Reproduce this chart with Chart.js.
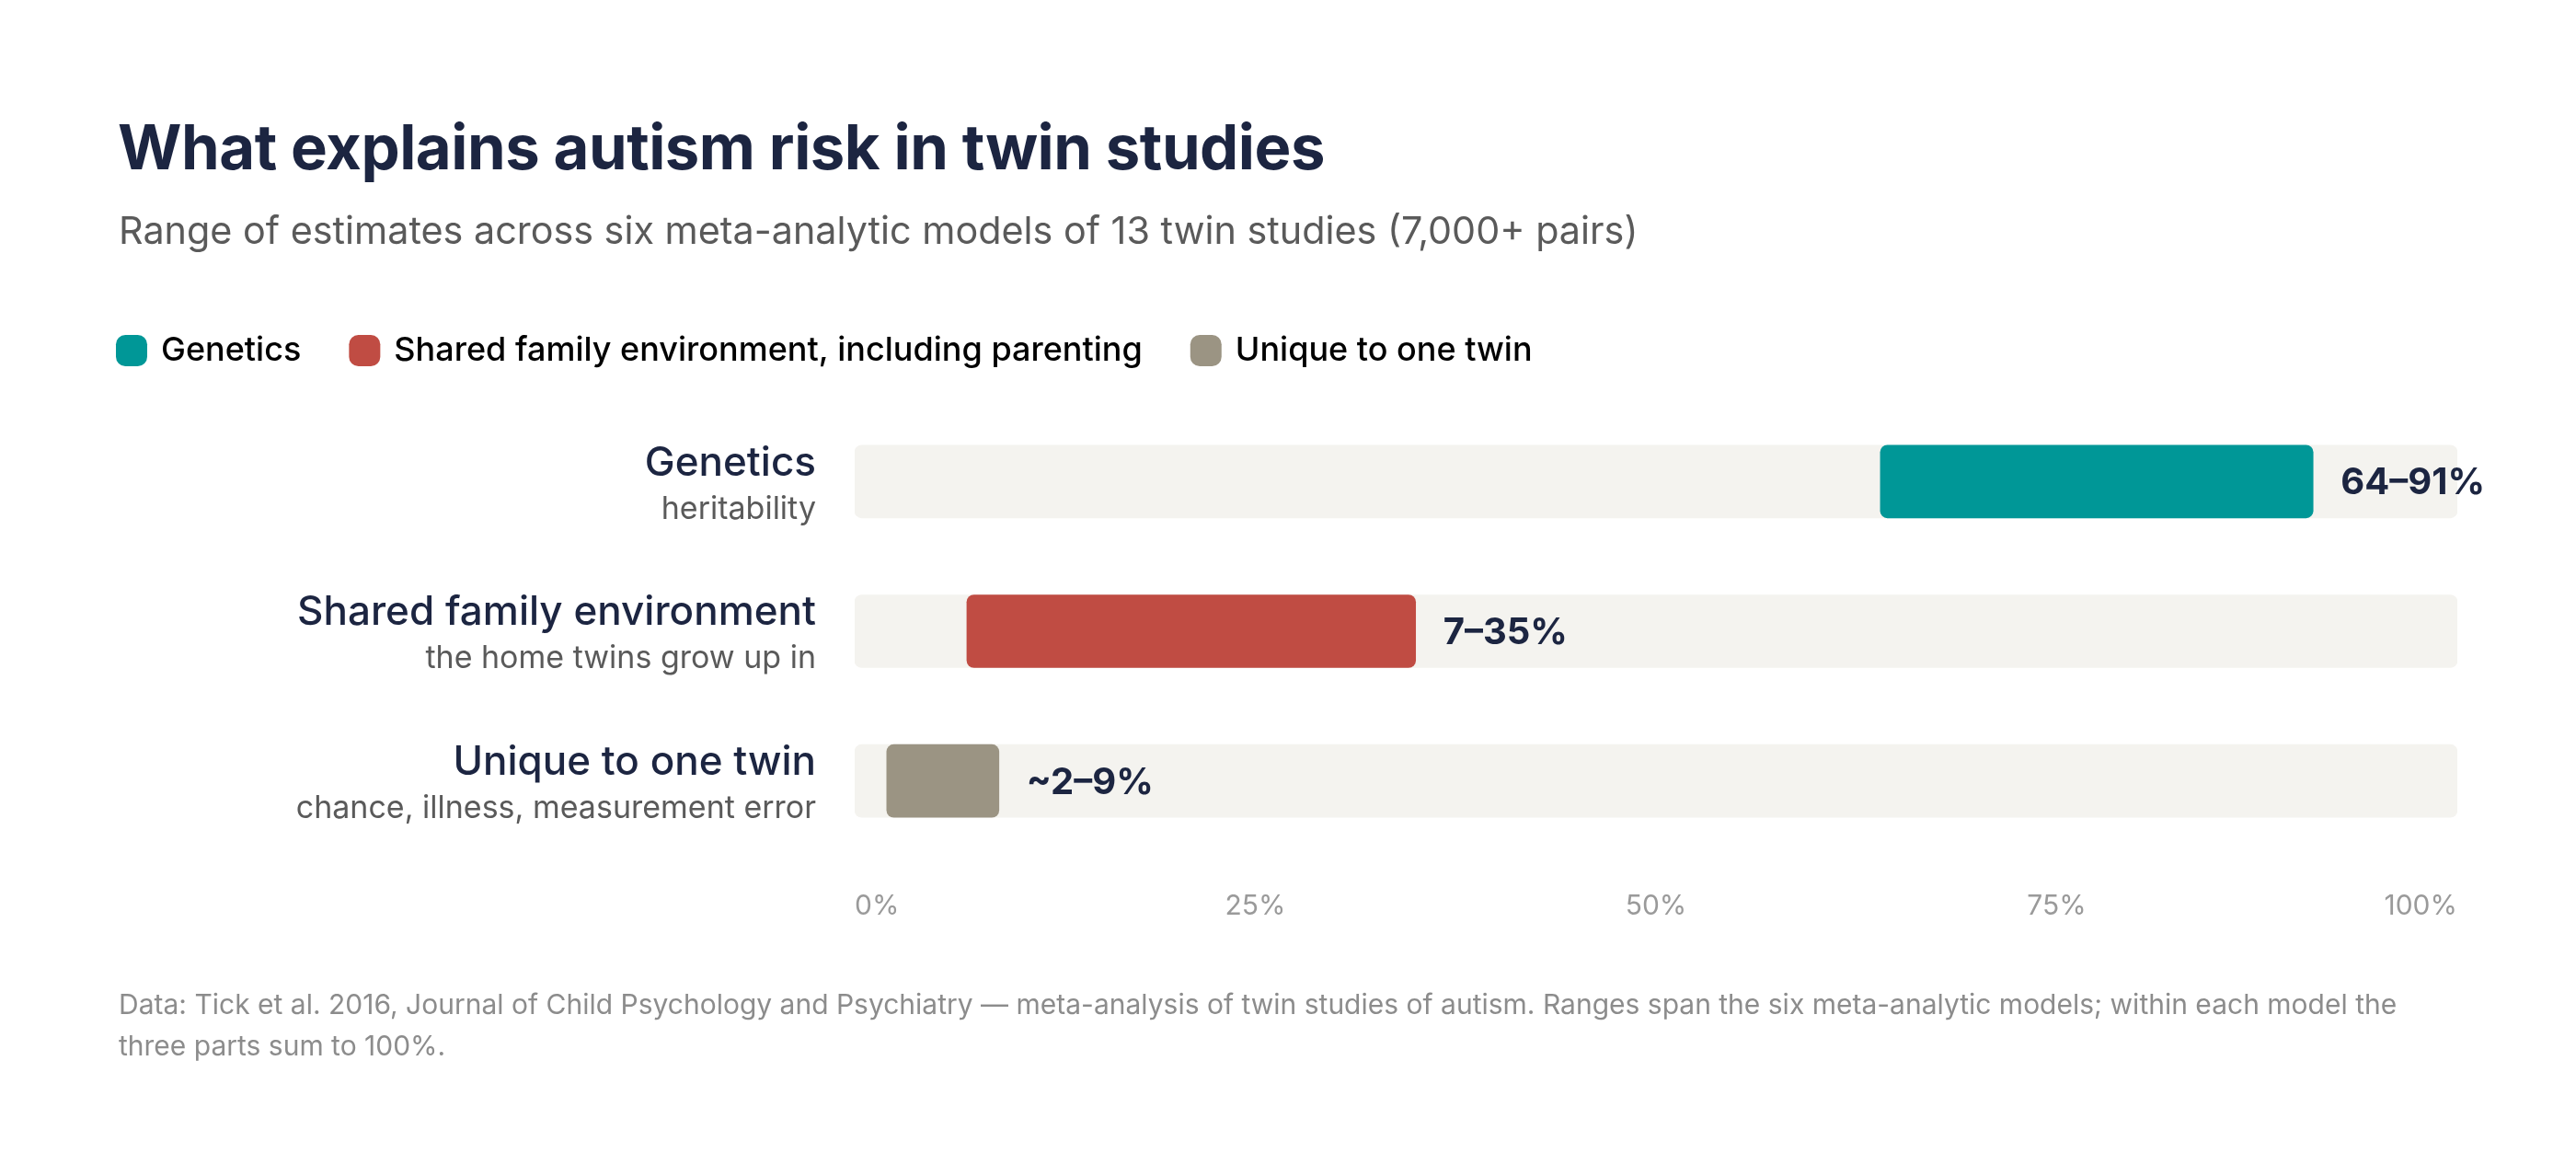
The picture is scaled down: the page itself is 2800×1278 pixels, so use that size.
<!DOCTYPE html>
<html>
<head>
<meta charset="utf-8">
<script src="https://cdn.jsdelivr.net/npm/chart.js@4.4.1/dist/chart.umd.min.js"></script>
<style>
html,body{margin:0;padding:0;background:#fff;}
body{width:2800px;height:1278px;position:relative;overflow:hidden;font-family:Inter,"Noto Sans",sans-serif;}
#title{position:absolute;left:128px;top:126px;font-size:67px;line-height:1;font-weight:700;color:#1c2541;letter-spacing:-0.5px;white-space:nowrap;}
#subtitle{position:absolute;left:129px;top:230px;font-size:41.3px;line-height:1;font-weight:400;color:#5a5a5a;white-space:nowrap;}
#footer{position:absolute;left:129px;top:1069px;width:2545px;font-size:30px;line-height:45px;color:#8c8c8c;}
#wrap{position:absolute;left:0;top:0;width:2800px;height:1278px;}
</style>
</head>
<body>
<div id="wrap"><canvas id="chart"></canvas></div>
<div id="title">What explains autism risk in twin studies</div>
<div id="subtitle">Range of estimates across six meta-analytic models of 13 twin studies (7,000+ pairs)</div>
<div id="footer">Data: Tick et al. 2016, Journal of Child Psychology and Psychiatry — meta-analysis of twin studies of autism. Ranges span the six meta-analytic models; within each model the three parts sum to 100%.</div>
<script>
// categories and values
const categories = ["Genetics","Shared family environment","Unique to one twin"];
const subLabels = ["heritability","the home twins grow up in","chance, illness, measurement error"];
const legendLabels = ["Genetics","Shared family environment, including parenting","Unique to one twin"];
const lowValues = [64,7,2];
const highValues = [91,35,9];
const rangeLabels = ["64–91%","7–35%","~2–9%"];
const xTicks = [0,25,50,75,100];
const colors = ["#009797","#c04c43","#9b9483"];

const NAVY = "#1c2541";

// y-axis labels with a bold name and a grey note under it
const catLabels = {
  id:"catLabels",
  afterDraw(chart){
    const c = chart.ctx;
    const y = chart.scales.y;
    const x0 = chart.chartArea.left - 42;
    c.save();
    c.textAlign = "right";
    c.textBaseline = "middle";
    categories.forEach((name,i)=>{
      const py = y.getPixelForValue(i);
      c.font = "500 44px Inter";
      c.fillStyle = NAVY;
      c.fillText(name, x0, py-20);
      c.font = "400 34px Inter";
      c.fillStyle = "#5a5a5a";
      c.fillText(subLabels[i], x0, py+30);
    });
    c.restore();
  }
};

// range text to the right of each bar
const rangeText = {
  id:"rangeText",
  afterDatasetsDraw(chart){
    const c = chart.ctx;
    const meta = chart.getDatasetMeta(0);
    c.save();
    c.font = "700 40px Inter";
    c.fillStyle = NAVY;
    c.textAlign = "left";
    c.textBaseline = "middle";
    meta.data.forEach((bar,i)=>{
      c.fillText(rangeLabels[i], bar.x + 30, bar.y + 2);
    });
    c.restore();
  }
};

// leave room between legend and plot
const legendGap = {
  id:"legendGap",
  beforeInit(chart){
    const fit = chart.legend.fit;
    chart.legend.fit = function(){
      fit.call(this);
      this.height += 33;
    };
  }
};

new Chart(document.getElementById("chart"),{
  type:"bar",
  data:{
    labels:categories,
    datasets:[
      {
        label:"range",
        data:categories.map((_,i)=>[lowValues[i],highValues[i]]),
        backgroundColor:colors,
        borderRadius:8,
        borderSkipped:false,
        barThickness:79,
        grouped:false,
        order:0
      },
      {
        label:"track",
        data:categories.map(()=>[0,100]),
        backgroundColor:"#f4f3ef",
        borderRadius:8,
        borderSkipped:false,
        barThickness:79,
        grouped:false,
        order:1
      }
    ]
  },
  options:{
    indexAxis:"y",
    responsive:true,
    maintainAspectRatio:false,
    animation:false,
    layout:{padding:{left:74,right:129,top:308,bottom:238}},
    plugins:{
      tooltip:{enabled:false},
      legend:{
        display:true,
        position:"top",
        align:"start",
        labels:{
          usePointStyle:true,
          pointStyle:"rectRounded",
          boxWidth:28,
          boxHeight:28,
          padding:55,
          color:"#222",
          font:{family:"Inter",size:36,weight:"500"},
          generateLabels(){
            return legendLabels.map((t,i)=>({
              text:t,
              fillStyle:colors[i],
              strokeStyle:colors[i],
              lineWidth:0,
              pointStyle:"rectRounded",
              hidden:false,
              datasetIndex:0
            }));
          }
        },
        onClick(){}
      }
    },
    scales:{
      x:{
        type:"linear",
        min:0,
        max:100,
        afterBuildTicks(scale){
          scale.ticks = xTicks.map(v=>({value:v}));
        },
        grid:{display:false,drawTicks:false},
        border:{display:false},
        ticks:{
          align:"inner",
          padding:37,
          color:"#9a9a9a",
          font:{family:"Inter",size:30},
          callback:v=>v+"%"
        }
      },
      y:{
        grid:{display:false,drawTicks:false},
        border:{display:false},
        ticks:{display:false},
        afterFit(scale){ scale.width = 855; }
      }
    }
  },
  plugins:[catLabels,rangeText,legendGap]
});
</script>
</body>
</html>
